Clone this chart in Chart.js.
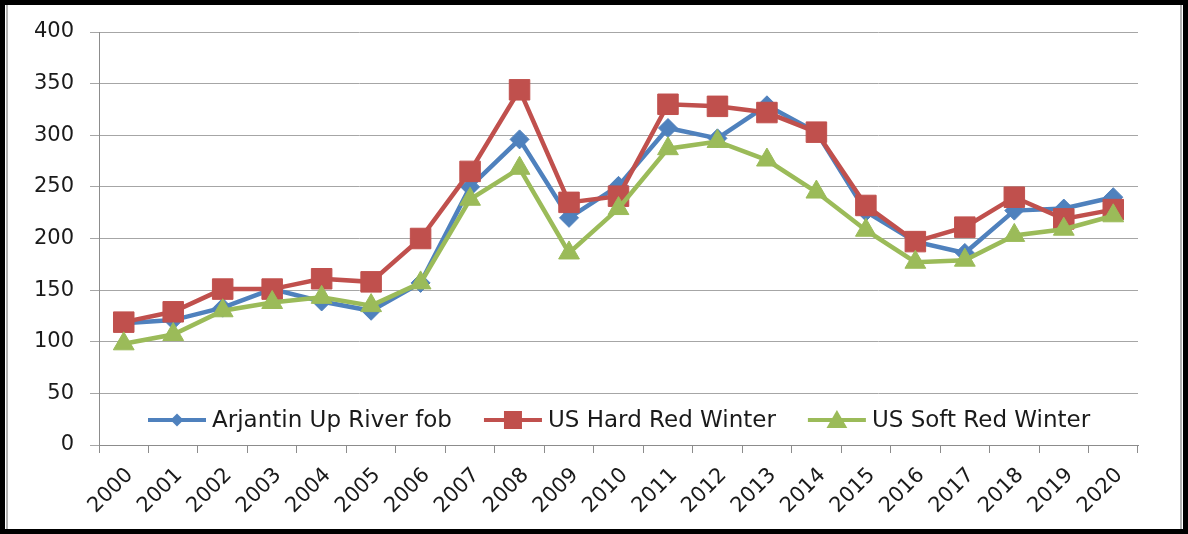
<!DOCTYPE html>
<html>
<head>
<meta charset="utf-8">
<script src="https://cdn.jsdelivr.net/npm/chart.js@4.4.0/dist/chart.umd.min.js"></script>
<style>
  html, body { margin: 0; padding: 0; background: #fff; }
  #wrap { width: 1188px; height: 534px; position: relative; }
</style>
</head>
<body>
<div id="wrap"><canvas id="myChart" width="1188" height="534"></canvas></div>
<script>
let years = ["2000", "2001", "2002", "2003", "2004", "2005", "2006", "2007", "2008", "2009", "2010",
  "2011", "2012", "2013", "2014", "2015", "2016", "2017", "2018", "2019", "2020"];

let arjantin = [118, 121, 133, 151, 139, 130, 157, 250, 296, 220, 251,
  307, 297, 329, 303, 226, 197, 186, 227, 229, 240];
let hardRed = [119, 129, 151, 151, 161, 158, 200, 265, 344, 235, 241,
  330, 328, 322, 303, 232, 197, 211, 240, 219, 228];
let softRed = [98, 107, 130, 138, 143, 135, 157, 238, 268, 186, 229,
  287, 294, 276, 245, 208, 177, 179, 203, 209, 222];

let yTicks = [0, 50, 100, 150, 200, 250, 300, 350, 400];

let tickFont = { family: "DejaVu Sans", size: 21 };
let textColor = "#1a1a1a";

// frame round the whole picture
let framePlugin = {
  id: "frame",
  beforeDraw(chart) {
    let c = chart.ctx;
    c.save();
    c.fillStyle = "#fff";
    c.fillRect(0, 0, chart.width, chart.height);
    c.strokeStyle = "#000";
    c.lineWidth = 5;
    c.strokeRect(2.5, 2.5, chart.width - 5, chart.height - 5);
    c.strokeStyle = "#9a9a9a";
    c.lineWidth = 1.5;
    c.beginPath();
    c.moveTo(7, 5); c.lineTo(7, chart.height - 5);
    c.moveTo(chart.width - 7, 5); c.lineTo(chart.width - 7, chart.height - 5);
    c.stroke();
    c.restore();
  }
};

// legend marker sizes (half size)
let legendMarker = { rectRot: 6.5, rect: 9, triangle: 12 };

function drawMarker(c, style, x, y, r, color) {
  c.fillStyle = color;
  c.beginPath();
  if (style === "rectRot") {
    c.moveTo(x, y - r); c.lineTo(x + r, y); c.lineTo(x, y + r); c.lineTo(x - r, y);
  } else if (style === "rect") {
    c.rect(x - r, y - r, 2 * r, 2 * r);
  } else {
    let h = r * 0.5;
    c.moveTo(x, y - r); c.lineTo(x + r * 0.866, y + h); c.lineTo(x - r * 0.866, y + h);
  }
  c.closePath();
  c.fill();
}

// legend with line + marker, sitting inside the plot area
let legendPlugin = {
  id: "insideLegend",
  afterDraw(chart) {
    let c = chart.ctx;
    let area = chart.chartArea;
    let y = area.bottom - 25;
    let x = area.left + 49;
    c.save();
    c.font = "23px 'DejaVu Sans'";
    c.textBaseline = "middle";
    chart.data.datasets.forEach(ds => {
      c.strokeStyle = ds.borderColor;
      c.lineWidth = 4;
      c.beginPath();
      c.moveTo(x, y); c.lineTo(x + 58, y);
      c.stroke();
      drawMarker(c, ds.pointStyle, x + 29, y + (ds.pointStyle === "triangle" ? 2 : 0),
        legendMarker[ds.pointStyle], ds.borderColor);
      c.fillStyle = textColor;
      c.fillText(ds.label, x + 64, y + 1);
      x += 64 + c.measureText(ds.label).width + 32;
    });
    c.restore();
  }
};

let ctx = document.getElementById("myChart").getContext("2d");
let myChart = new Chart(ctx, {
  type: "line",
  data: {
    labels: years,
    datasets: [
      {
        label: "Arjantin Up River fob",
        data: arjantin,
        borderColor: "#4F81BD",
        backgroundColor: "#4F81BD",
        borderWidth: 4.5,
        pointStyle: "rectRot",
        pointRadius: 9.5,
        pointBorderWidth: 1,
        order: 2
      },
      {
        label: "US Hard Red Winter",
        data: hardRed,
        borderColor: "#C0504D",
        backgroundColor: "#C0504D",
        borderWidth: 4.5,
        pointStyle: "rect",
        pointRadius: 14.5,
        pointBorderWidth: 1,
        order: 1
      },
      {
        label: "US Soft Red Winter",
        data: softRed,
        borderColor: "#9BBB59",
        backgroundColor: "#9BBB59",
        borderWidth: 4.5,
        pointStyle: "triangle",
        pointRadius: 12,
        pointBorderWidth: 1,
        order: 0
      }
    ]
  },
  options: {
    responsive: false,
    animation: false,
    events: [],
    layout: { padding: { top: 32, right: 50, bottom: 9, left: 0 } },
    plugins: {
      legend: { display: false },
      tooltip: { enabled: false }
    },
    scales: {
      x: {
        offset: true,
        grid: { drawOnChartArea: false, color: "#8c8c8c", tickLength: 8, offset: true },
        border: { color: "#8c8c8c" },
        ticks: {
          font: { family: "DejaVu Sans", size: 21 }, color: textColor,
          minRotation: 45, maxRotation: 45, padding: 10, labelOffset: 6
        },
        afterFit(scale) { scale.height = 80; }
      },
      y: {
        min: 0,
        max: 400,
        afterBuildTicks(scale) { scale.ticks = yTicks.map(v => ({ value: v })); },
        grid: { color: "#a6a6a6", tickLength: 9 },
        border: { color: "#8c8c8c" },
        ticks: { font: tickFont, color: textColor, padding: 16 },
        afterFit(scale) { scale.width = 99; }
      }
    }
  },
  plugins: [framePlugin, legendPlugin]
});
</script>
</body>
</html>
